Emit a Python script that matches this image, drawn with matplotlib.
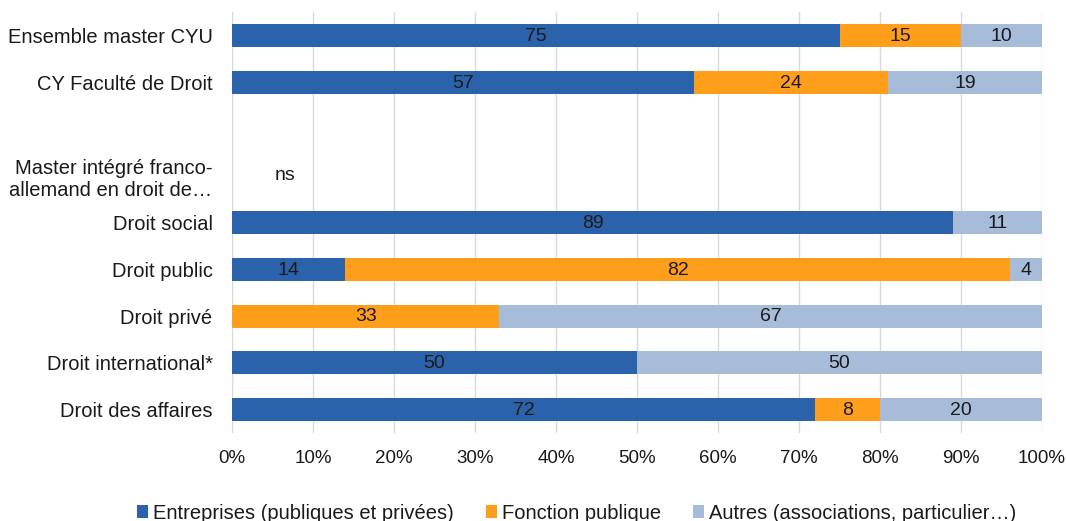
import numpy as np
import matplotlib.pyplot as plt

plt.rcParams['font.family'] = ['Liberation Sans', 'DejaVu Sans']

# Données
categories = ["Ensemble master CYU", "CY Faculté de Droit", "",
              "Master intégré franco-\nallemand en droit de…",
              "Droit social", "Droit public", "Droit privé",
              "Droit international*", "Droit des affaires"]
entreprises = [75, 57, 0, 0, 89, 14, 0, 50, 72]
fonction = [15, 24, 0, 0, 0, 82, 33, 0, 8]
autres = [10, 19, 0, 0, 11, 4, 67, 50, 20]
series_names = ["Entreprises (publiques et privées)", "Fonction publique",
                "Autres (associations, particulier…)"]
colors = ["#2A62AB", "#FF9E1B", "#A7BCD9"]
ns_row = 3

fig = plt.figure(figsize=(10.66, 5.21), dpi=100)
ax = fig.add_axes([232/1066, 1 - 433/521, 810/1066, 421/521])

y = np.arange(len(categories))
left = np.zeros(len(categories))
for vals, name, col in zip([entreprises, fonction, autres], series_names, colors):
    vals = np.array(vals, dtype=float)
    ax.barh(y, vals, left=left, height=0.49, color=col, label=name, zorder=2)
    for i, v in enumerate(vals):
        if v > 0:
            ax.text(left[i] + v / 2, i + 0.02, "%d" % v, ha="center", va="center",
                    fontsize=14, color="#1a1a1a", zorder=3)
    left += vals

ax.text(6.5, ns_row, "ns", ha="center", va="center", fontsize=14, color="#1a1a1a")

ax.set_ylim(len(categories) - 0.5, -0.5)
ax.set_xlim(0, 100)
ax.set_yticks(y)
ax.set_yticklabels(categories, fontsize=14.5, color="#1a1a1a")
ax.set_xticks(np.arange(0, 101, 10))
ax.set_xticklabels(["%d%%" % t for t in range(0, 101, 10)], fontsize=13.5, color="#1a1a1a")
ax.tick_params(axis="both", length=0)
ax.tick_params(axis="y", pad=14)
ax.tick_params(axis="x", pad=12)
ax.grid(axis="x", color="#d9d9d9", linewidth=1, zorder=0)
for s in ax.spines.values():
    s.set_visible(False)

leg = fig.legend(loc="lower center", bbox_to_anchor=(0.541, -0.038), ncol=3, frameon=False,
                 fontsize=14.5, handlelength=0.55, handleheight=0.55, handletextpad=0.25,
                 columnspacing=1.6)
for t in leg.get_texts():
    t.set_color("#1a1a1a")

fig.savefig("out.png", dpi=100)
